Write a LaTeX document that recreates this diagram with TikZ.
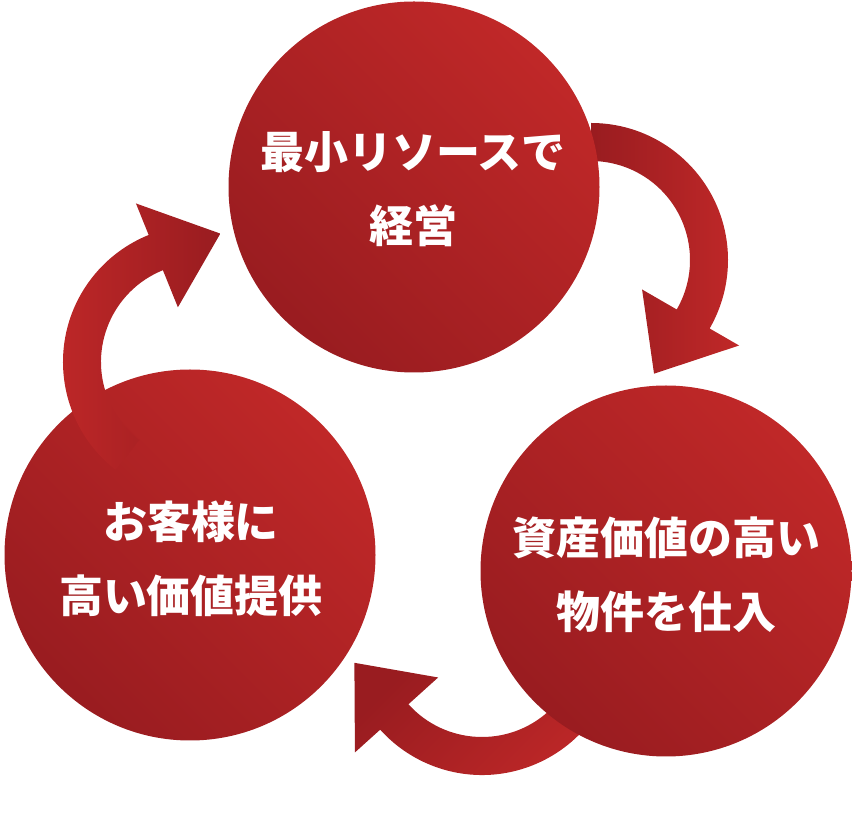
\documentclass[tikz,border=0pt]{standalone}
\usepackage{fontspec}
\newfontfamily\jp{Noto Sans CJK JP}
\definecolor{cLight}{HTML}{C02828}
\definecolor{cDark}{HTML}{991C20}
\begin{document}
\begin{tikzpicture}[x=1pt,y=1pt,
  redshade/.style={top color=cLight, bottom color=cDark},
  ball/.style={circle, minimum size=371pt, inner sep=0pt, draw=none, redshade, shading angle=-45},
  captxt/.style={text=white, font=\jp\bfseries\fontsize{44}{74}\selectfont, align=center, inner sep=0pt},
]
\useasboundingbox (0,0) rectangle (852,822);

% arc centres of the three cycle arrows
\coordinate (a1) at (591,562);
\coordinate (a2) at (482,184);
\coordinate (a3) at (200,460);

% arrow top right
\path[redshade, shading angle=-90, shift={(a1)}]
  (90:137) arc[start angle=90, end angle=-30, radius=137]
  -- (-30:171) -- (-61:130) -- (-30:59) -- (-30:99)
  arc[start angle=-30, end angle=90, radius=99] -- cycle;

% arrow bottom
\path[redshade, shading angle=-135, shift={(a2)}]
  (-18:137) arc[start angle=-18, end angle=-138, radius=137]
  -- (-138:171) -- (-169:130) -- (-138:59) -- (-138:99)
  arc[start angle=-138, end angle=-18, radius=99] -- cycle;

% circles
\node[ball] (top)   at (414,635) {};
\node[ball] (right) at (666,251) {};
\node[ball] (left)  at (190,267) {};

% arrow left (over the left circle)
\path[redshade, shading angle=90, shift={(a3)}]
  (232:137) arc[start angle=232, end angle=112, radius=137]
  -- (112:171) -- (81:130) -- (112:59) -- (112:99)
  arc[start angle=112, end angle=232, radius=99] -- cycle;

% texts
\node[captxt] (t1) at (413,633)   {最小リソースで\\経営};
\node[captxt] (t2) at (666,247.5) {資産価値の高い\\物件を仕入};
\node[captxt] (t3) at (191,263)   {お客様に\\高い価値提供};
\end{tikzpicture}
\end{document}
